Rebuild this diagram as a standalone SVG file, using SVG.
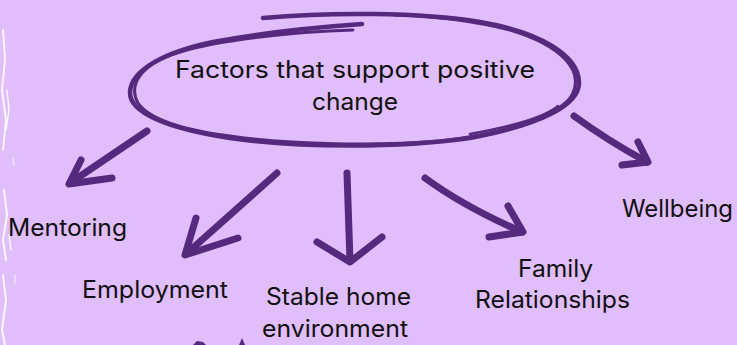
<svg xmlns="http://www.w3.org/2000/svg" width="737" height="345" viewBox="0 0 737 345">
  <style>
    .bg { fill: #E0BDFB; }
    .ring { fill: none; stroke: #55297D; stroke-linecap: round; stroke-linejoin: round; }
    .arrow { fill: none; stroke: #55297D; stroke-width: 7; stroke-linecap: round; stroke-linejoin: round; }
    .head { fill: none; stroke: #55297D; stroke-width: 7; stroke-linecap: round; stroke-linejoin: round; }
    .lbl { font-family: Inter, "Liberation Sans", Arial, sans-serif; font-size: 24px; fill: #111111; text-anchor: middle; }
    .scratch { fill: none; stroke: #FFFFFF; stroke-linecap: round; opacity: 0.85; }
    .frag { fill: #55297D; }
  </style>
  <rect class="bg" x="0" y="0" width="737" height="345"/>
  <g id="texture">
    <path class="scratch" stroke-width="2" d="M3 30 L5 60 L2 90 L6 120 L3 150"/>
    <path class="scratch" stroke-width="1.5" d="M7 90 L9 110 L6 130"/>
    <path class="scratch" stroke-width="2" d="M4 190 L7 215 L3 240 L6 260"/>
    <path class="scratch" stroke-width="1.5" d="M9 235 L11 250"/>
    <path class="scratch" stroke-width="2" d="M3 275 L6 300 L2 330 L5 345"/>
    <path class="scratch" stroke-width="1" d="M13 158 L14 166"/>
    <path class="scratch" stroke-width="1" d="M15 275 L15 283"/>
  </g>
  <g id="center-node">
    <path class="ring" stroke-width="4.5" d="M263 18 C 330 12, 420 12, 480 22 C 540 32, 578 55, 579 82 C 580 105, 540 125, 470 138 C 400 148, 300 148, 230 138 C 165 128, 130 112, 130 93 C 130 70, 165 52, 213 42 C 260 33, 320 27, 362 24"/>
    <path class="ring" stroke-width="3" d="M353 30 C 290 32, 220 40, 180 52 C 140 64, 128 85, 138 103 C 150 120, 185 130, 230 136 C 290 145, 380 146, 440 141 C 510 133, 560 115, 572 95 C 585 70, 560 45, 510 30 C 470 20, 430 16, 395 15"/>
    <path class="ring" stroke-width="2.5" d="M470 134 C 515 126, 545 117, 558 106"/>
    <text class="lbl" x="355" y="78" textLength="360" lengthAdjust="spacingAndGlyphs">Factors that support positive</text>
    <text class="lbl" x="355" y="110" textLength="86" lengthAdjust="spacingAndGlyphs">change</text>
  </g>
  <g id="connectors">
    <path class="arrow" d="M147 131 L70 183"/>
    <path class="head" d="M81 160 L69 184 L112 178"/>
    <path class="arrow" d="M277 173 L186 254"/>
    <path class="head" d="M196 218 L185 255 L238 238"/>
    <path class="arrow" d="M347 173 L350 261"/>
    <path class="head" d="M317 242 L350 262 L382 237"/>
    <path class="arrow" d="M425 178 C 455 200, 490 218, 522 232"/>
    <path class="head" d="M508 206 L523 232 L489 237"/>
    <path class="arrow" d="M574 116 C 600 135, 625 150, 647 162"/>
    <path class="head" d="M638 142 L648 162 L622 165"/>
  </g>
  <g id="fragments">
    <path class="frag" d="M193 345 L197 341 L203 342 L206 345 Z"/>
    <path class="frag" d="M239 345 L242 338 L245 345 Z"/>
  </g>
  <g id="mentoring"><text class="lbl" x="67.5" y="236" textLength="119" lengthAdjust="spacingAndGlyphs">Mentoring</text></g>
  <g id="employment"><text class="lbl" x="155" y="298" textLength="146" lengthAdjust="spacingAndGlyphs">Employment</text></g>
  <g id="stable-home"><text class="lbl" x="338.5" y="305" textLength="145" lengthAdjust="spacingAndGlyphs">Stable home</text><text class="lbl" x="335" y="337" textLength="146" lengthAdjust="spacingAndGlyphs">environment</text></g>
  <g id="family"><text class="lbl" x="555.5" y="277" textLength="75" lengthAdjust="spacingAndGlyphs">Family</text><text class="lbl" x="552.5" y="308" textLength="155" lengthAdjust="spacingAndGlyphs">Relationships</text></g>
  <g id="wellbeing"><text class="lbl" x="677.5" y="217" textLength="111" lengthAdjust="spacingAndGlyphs">Wellbeing</text></g>
</svg>
